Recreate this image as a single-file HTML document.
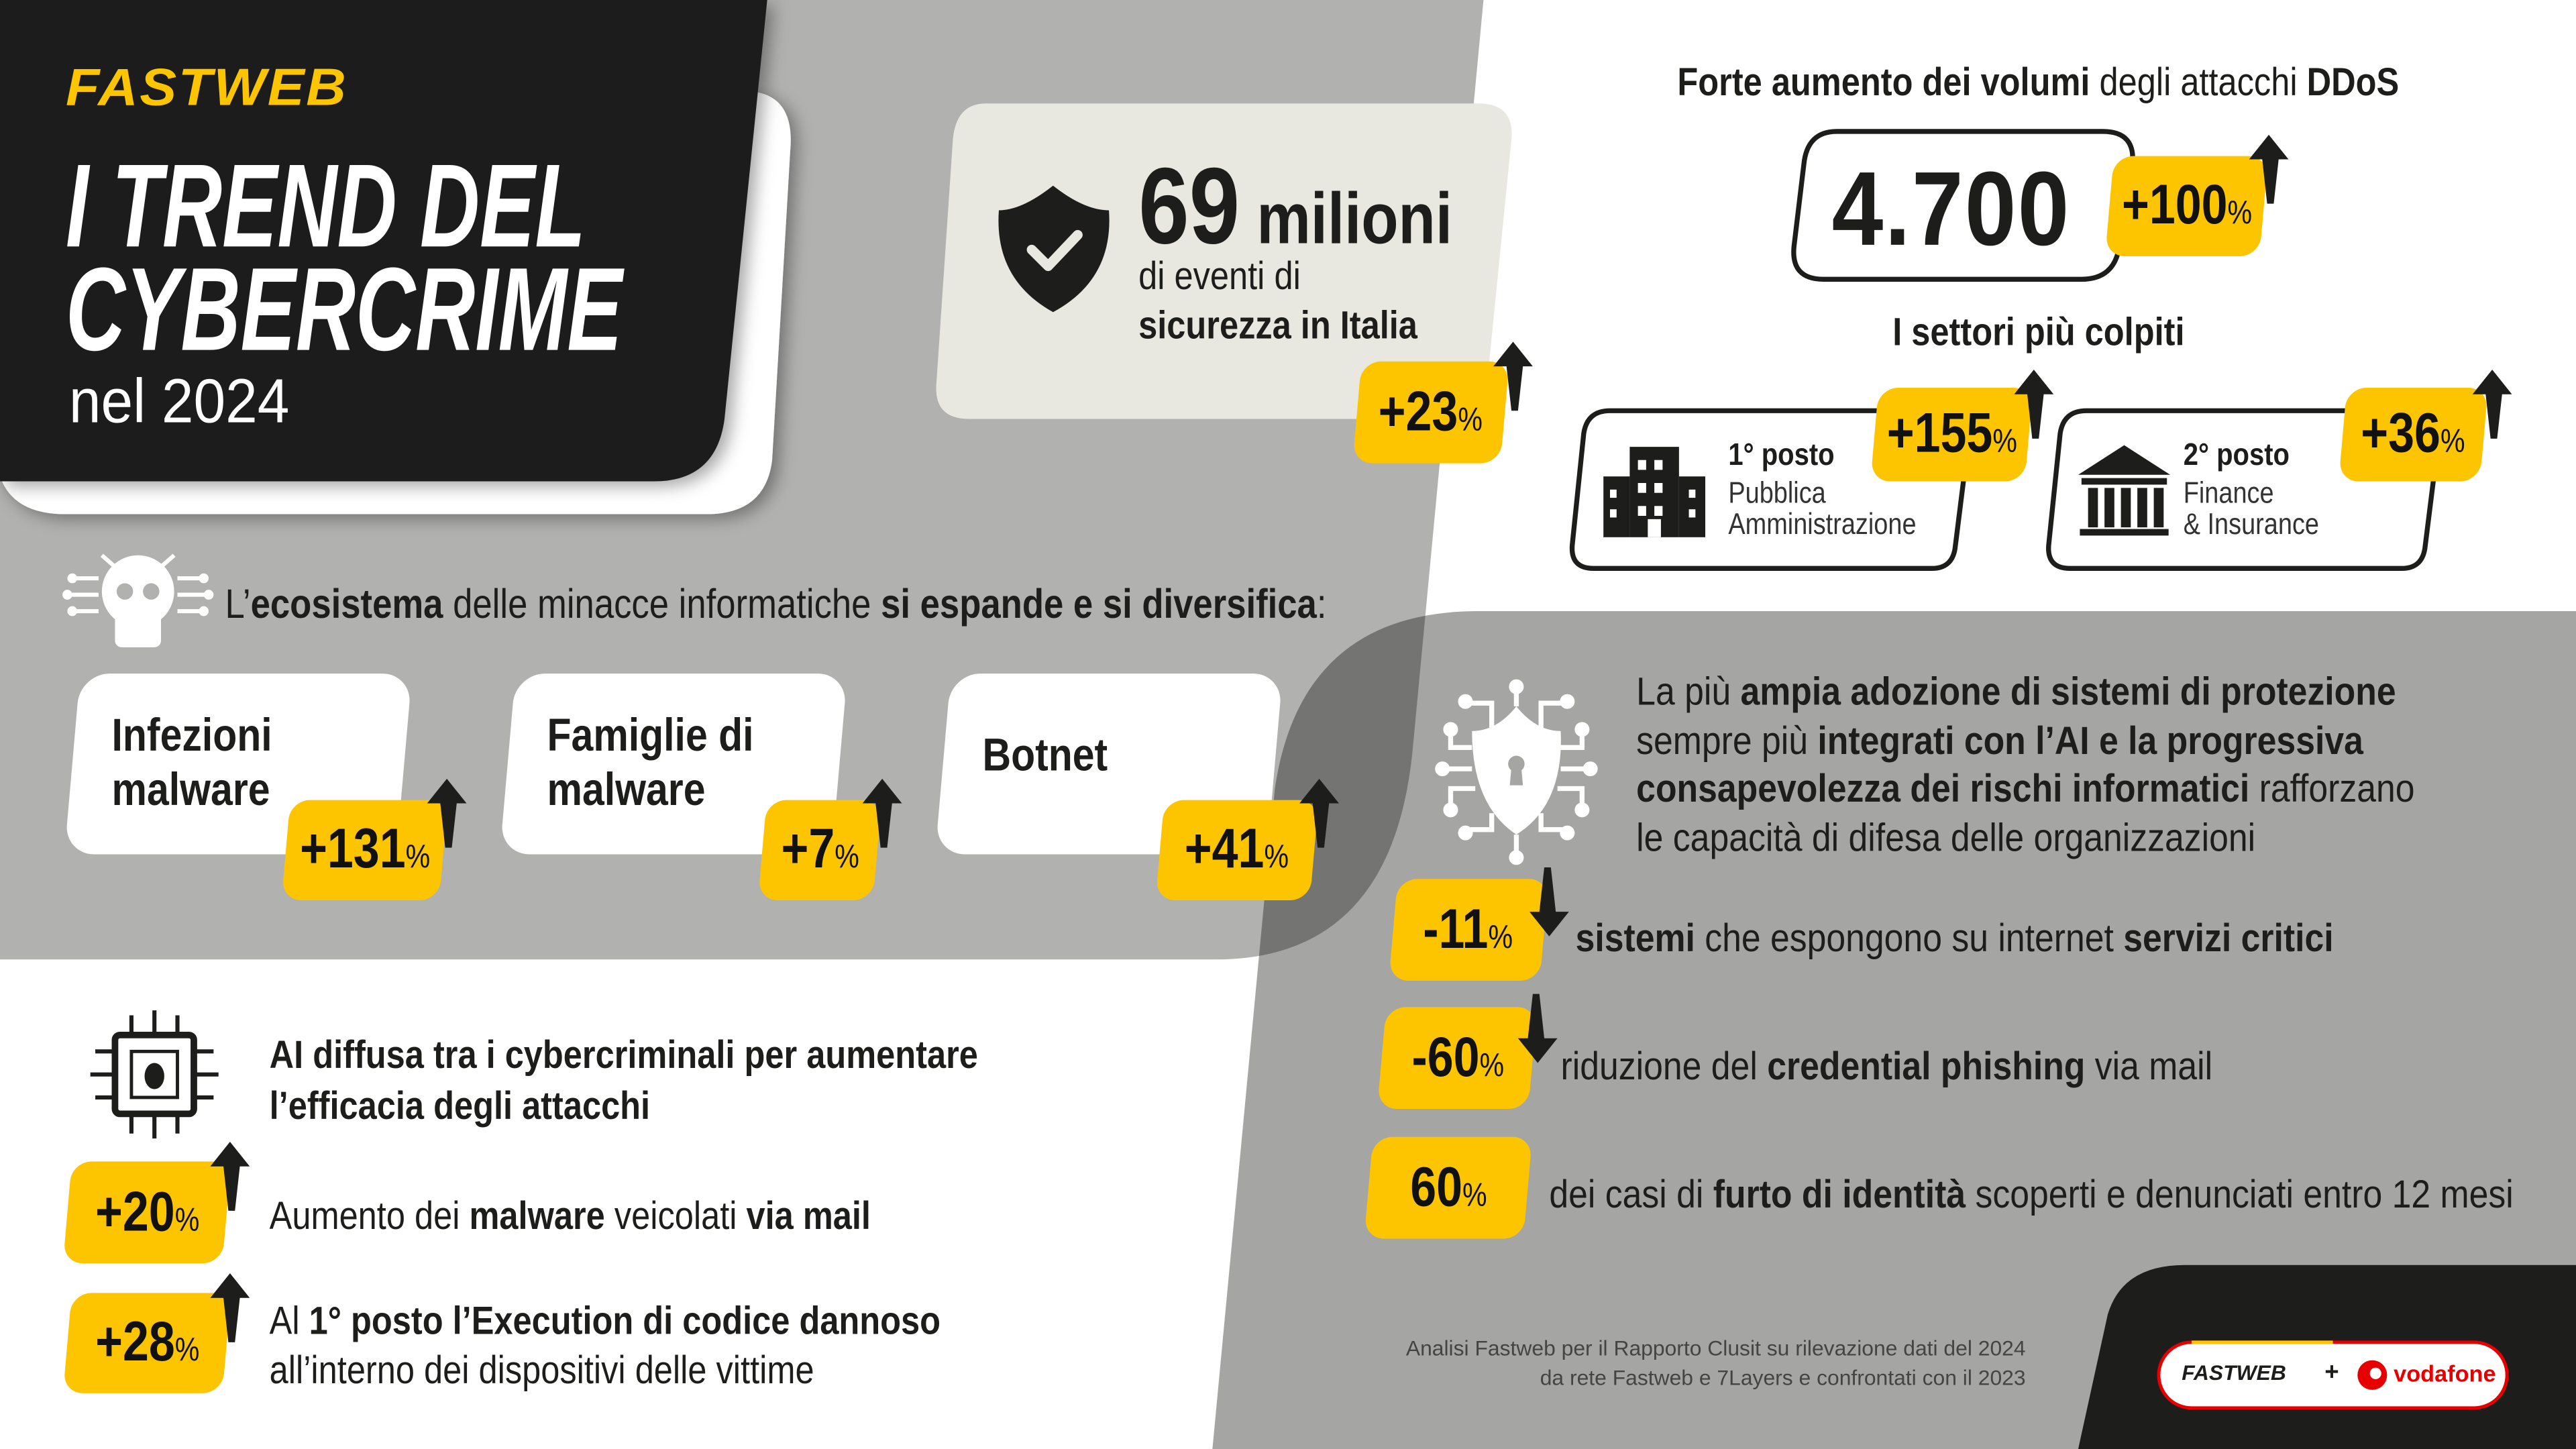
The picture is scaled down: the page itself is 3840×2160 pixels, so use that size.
<!DOCTYPE html>
<html><head><meta charset="utf-8">
<style>
html,body{margin:0;padding:0;background:#fff;}
body{width:3840px;height:2160px;overflow:hidden;position:relative;}
#s{position:absolute;left:0;top:0;width:1568px;height:882px;transform:scale(2.44898);transform-origin:0 0;font-family:"Liberation Sans Narrow","Liberation Sans",sans-serif;color:#1d1d1b;}
.t{position:absolute;white-space:nowrap;line-height:1;transform:scaleX(0.86);transform-origin:0 0;}
b{font-weight:700;}
.bd{position:absolute;background:#fdc400;border-radius:12px;transform:skewX(-5deg);display:flex;align-items:center;justify-content:center;font-weight:700;font-size:34px;color:#111;}
.bd span{transform:skewX(5deg) scaleX(0.84);white-space:nowrap;}
.bd small{font-size:20px;font-weight:400;}
.card{position:absolute;background:#fff;border-radius:18px;transform:skewX(-5deg);}
</style></head><body><div id="s">
<svg width="1568" height="882" viewBox="0 0 1568 882" style="position:absolute;left:0;top:0">
<defs>
<clipPath id="lc"><path d="M0,0 H903 L860,455 Q848,584 740,584 H0 Z"/></clipPath>
<filter id="sh" x="-10%" y="-10%" width="130%" height="130%"><feDropShadow dx="4" dy="3" stdDeviation="5" flood-opacity="0.35"/></filter>
</defs>
<path d="M0,0 H903 L860,455 Q848,584 740,584 H0 Z" fill="#b1b1b0"/>
<path d="M1568,372 V882 H738 L776,480 Q792,372 900,372 Z" fill="#a5a5a4"/>
<path d="M1568,372 V882 H738 L776,480 Q792,372 900,372 Z" fill="#747473" clip-path="url(#lc)"/>
<path d="M460,56 Q484,60 481,92 L470,280 Q466,313 430,313 H40 Q8,313 0,290 Z" fill="#fff" filter="url(#sh)"/>
<path d="M0,0 H467 L441,255 Q436,293 398,293 H0 Z" fill="#1d1d1b" filter="url(#sh)"/>
<path d="M1265,882 L1283,800 Q1292,770 1330,770 H1568 V882 Z" fill="#1d1d1b"/>
<path d="M600,63 H900 Q922,63 920,85 L905,235 Q902,255 880,255 H590 Q568,255 570,233 L580,85 Q582,63 600,63 Z" fill="#e8e8e1"/>
<path d="M641,113 Q660,128 675,128 Q678,170 641,190 Q605,170 608,128 Q622,128 641,113 Z" fill="#1d1d1b"/>
<path d="M628,152 L638,162 L656,143" stroke="#e8e8e1" stroke-width="6" fill="none" stroke-linecap="round" stroke-linejoin="round"/>
<path d="M1118,80 H1280 Q1300,80 1298,100 L1290,150 Q1287,170 1267,170 H1110 Q1090,170 1092,150 L1098,100 Q1100,80 1118,80 Z" fill="#fff" stroke="#1d1d1b" stroke-width="3"/>
<path d="M980,250 H1190 Q1200,250 1199,262 L1190,334 Q1188,346 1176,346 H970 Q956,346 957,332 L964,264 Q966,250 980,250 Z" fill="#fff" stroke="#1d1d1b" stroke-width="3"/>
<path d="M1270,250 H1476 Q1486,250 1485,262 L1476,334 Q1474,346 1462,346 H1260 Q1246,346 1247,332 L1254,264 Q1256,250 1270,250 Z" fill="#fff" stroke="#1d1d1b" stroke-width="3"/>
<g fill="#1d1d1b"><rect x="992" y="272" width="30" height="55"/><rect x="976" y="290" width="16" height="37"/><rect x="1022" y="290" width="16" height="37"/>
<g fill="#fff"><rect x="997" y="280" width="5" height="6"/><rect x="1007" y="280" width="5" height="6"/><rect x="997" y="294" width="5" height="6"/><rect x="1007" y="294" width="5" height="6"/><rect x="997" y="308" width="5" height="6"/><rect x="1007" y="308" width="5" height="6"/><rect x="980" y="298" width="4" height="5"/><rect x="980" y="310" width="4" height="5"/><rect x="1028" y="298" width="4" height="5"/><rect x="1028" y="310" width="4" height="5"/><rect x="1003" y="316" width="8" height="11"/></g></g>
<g fill="#1d1d1b"><path d="M1293,271 L1321,289 H1265 Z"/><rect x="1267" y="291" width="52" height="4"/><rect x="1271" y="297" width="6" height="24"/><rect x="1281" y="297" width="6" height="24"/><rect x="1291" y="297" width="6" height="24"/><rect x="1301" y="297" width="6" height="24"/><rect x="1311" y="297" width="6" height="24"/><rect x="1266" y="322" width="54" height="4"/></g>
<g fill="#fff" stroke="#fff"><circle cx="84" cy="360" r="22" stroke="none"/><rect x="70" y="372" width="28" height="22" rx="4" stroke="none"/>
<g stroke-width="2.5" fill="none"><path d="M60,352 H45 M60,362 H42 M60,372 H45 M108,352 H123 M108,362 H126 M108,372 H123 M70,345 L62,338 M98,345 L106,338"/></g>
<circle cx="44" cy="352" r="2.5"/><circle cx="41" cy="362" r="2.5"/><circle cx="44" cy="372" r="2.5"/><circle cx="124" cy="352" r="2.5"/><circle cx="127" cy="362" r="2.5"/><circle cx="124" cy="372" r="2.5"/></g>
<circle cx="76" cy="360" r="5" fill="#b1b1b0"/><circle cx="92" cy="360" r="5" fill="#b1b1b0"/>
<g fill="#1d1d1b" stroke="#1d1d1b"><rect x="70" y="630" width="48" height="48" rx="3" fill="none" stroke-width="4"/><rect x="80" y="640" width="28" height="28" fill="none" stroke-width="2"/>
<g stroke-width="2.5"><path d="M80,630 V618 M94,630 V615 M108,630 V618 M80,678 V690 M94,678 V693 M108,678 V690 M70,640 H58 M70,654 H55 M70,668 H58 M118,640 H130 M118,654 H133 M118,668 H130"/></g>
<ellipse cx="94" cy="655" rx="6" ry="8" stroke="none"/></g>
<g fill="#fff" stroke="#fff"><path d="M923,430 Q935,445 950,445 Q952,490 923,508 Q896,490 896,445 Q911,445 923,430 Z" stroke="none"/>
<g stroke-width="3" fill="none"><path d="M923,430 V420 M908,443 V428 H895 M938,443 V428 H951 M896,455 H883 V445 M950,455 H963 V445 M896,468 H880 M950,468 H967 M898,480 H883 V492 M948,480 H963 V492 M908,495 V505 H895 M938,495 V505 H951 M923,508 V520"/></g>
<circle cx="923" cy="418" r="4"/><circle cx="892" cy="427" r="4"/><circle cx="954" cy="427" r="4"/><circle cx="883" cy="444" r="4"/><circle cx="963" cy="444" r="4"/><circle cx="878" cy="468" r="4"/><circle cx="968" cy="468" r="4"/><circle cx="883" cy="493" r="4"/><circle cx="963" cy="493" r="4"/><circle cx="892" cy="507" r="4"/><circle cx="954" cy="507" r="4"/><circle cx="923" cy="522" r="4"/></g>
<circle cx="923" cy="465" r="5" fill="#a5a5a4"/><path d="M920,467 H926 L927,478 H919 Z" fill="#a5a5a4"/>
<rect x="1314" y="817" width="212" height="40" rx="20" fill="#fff" stroke="#e60000" stroke-width="2"/>
<path d="M1334,817 H1420" stroke="#fdc400" stroke-width="2"/>
<circle cx="1444" cy="837" r="9" fill="#e60000"/><circle cx="1446" cy="836" r="3.5" fill="#fff"/>
</svg>

<div class="card" style="left:44px;top:410px;width:202px;height:110px"></div>
<div class="card" style="left:309px;top:410px;width:202px;height:110px"></div>
<div class="card" style="left:574px;top:410px;width:202px;height:110px"></div>

<div class="t" style="left:40px;top:37px;font-size:32px;font-weight:700;font-style:italic;color:#fdc400;letter-spacing:1px;transform:scaleX(1.05)">FASTWEB</div>
<div class="t" style="left:40px;top:90px;font-size:72px;font-weight:700;font-style:italic;color:#fff;transform:scaleX(0.70)">I TREND DEL</div>
<div class="t" style="left:40px;top:153px;font-size:72px;font-weight:700;font-style:italic;color:#fff;transform:scaleX(0.70)">CYBERCRIME</div>
<div class="t" style="left:42px;top:226px;font-size:38px;color:#fff;transform:scaleX(0.92)">nel 2024</div>

<div class="t" style="left:693px;top:92px;font-size:66px;font-weight:700;transform:scaleX(0.84)">69<span style="font-size:44px"> milioni</span></div>
<div class="t" style="left:693px;top:157px;font-size:24px">di eventi di</div>
<div class="t" style="left:693px;top:187px;font-size:24px;font-weight:700">sicurezza in Italia</div>

<div class="t" style="left:1021px;top:39px;font-size:24px"><b>Forte aumento dei volumi</b> degli attacchi <b>DDoS</b></div>
<div class="t" style="left:1115px;top:95px;font-size:64px;font-weight:700;letter-spacing:1px;transform:scaleX(0.88)">4.700</div>
<div class="t" style="left:1152px;top:191px;font-size:24px;font-weight:700">I settori più colpiti</div>
<div class="t" style="left:1052px;top:268px;font-size:19px;font-weight:700">1° posto</div>
<div class="t" style="left:1052px;top:291px;font-size:18px;color:#333">Pubblica</div>
<div class="t" style="left:1052px;top:310px;font-size:18px;color:#333">Amministrazione</div>
<div class="t" style="left:1329px;top:268px;font-size:19px;font-weight:700">2° posto</div>
<div class="t" style="left:1329px;top:291px;font-size:18px;color:#333">Finance</div>
<div class="t" style="left:1329px;top:310px;font-size:18px;color:#333">&amp; Insurance</div>

<div class="t" style="left:137px;top:356px;font-size:25px">L’<b>ecosistema</b> delle minacce informatiche <b>si espande e si diversifica</b>:</div>
<div class="t" style="left:68px;top:431px;font-size:28px;font-weight:700;line-height:33px">Infezioni<br>malware</div>
<div class="t" style="left:333px;top:431px;font-size:28px;font-weight:700;line-height:33px">Famiglie di<br>malware</div>
<div class="t" style="left:598px;top:446px;font-size:28px;font-weight:700">Botnet</div>

<div class="t" style="left:164px;top:627px;font-size:24px;font-weight:700;line-height:31px">AI diffusa tra i cybercriminali per aumentare<br>l’efficacia degli attacchi</div>
<div class="t" style="left:164px;top:729px;font-size:24px">Aumento dei <b>malware</b> veicolati <b>via mail</b></div>
<div class="t" style="left:164px;top:790px;font-size:24px;line-height:30px">Al <b>1° posto l’Execution di codice dannoso</b><br>all’interno dei dispositivi delle vittime</div>

<div class="t" style="left:996px;top:407px;font-size:24px;line-height:29.5px;transform:scaleX(0.88)">La più <b>ampia adozione di sistemi di protezione</b><br>sempre più <b>integrati con l’AI e la progressiva</b><br><b>consapevolezza dei rischi informatici</b> rafforzano<br>le capacità di difesa delle organizzazioni</div>
<div class="t" style="left:959px;top:560px;font-size:24px;transform:scaleX(0.88)"><b>sistemi</b> che espongono su internet <b>servizi critici</b></div>
<div class="t" style="left:950px;top:638px;font-size:24px;transform:scaleX(0.88)">riduzione del <b>credential phishing</b> via mail</div>
<div class="t" style="left:943px;top:716px;font-size:24px;transform:scaleX(0.88)">dei casi di <b>furto di identità</b> scoperti e denunciati entro 12 mesi</div>

<div class="t" style="left:800px;top:812px;width:433px;text-align:right;font-size:13px;line-height:18px;color:#444;transform:none">Analisi Fastweb per il Rapporto Clusit su rilevazione dati del 2024<br>da rete Fastweb e 7Layers e confrontati con il 2023</div>
<div class="t" style="left:1328px;top:829px;font-size:13px;font-weight:700;font-style:italic;transform:none">FASTWEB</div>
<div class="t" style="left:1415px;top:828px;font-size:15px;font-weight:700;transform:none">+</div>
<div class="t" style="left:1457px;top:829px;font-size:14px;font-weight:700;color:#e60000;transform:none">vodafone</div>

<div class="bd" style="left:826px;top:220px;width:90px;height:62px"><span>+23<small>%</small></span></div>
<div class="bd" style="left:1284px;top:95px;width:94px;height:61px"><span>+100<small>%</small></span></div>
<div class="bd" style="left:1141px;top:236px;width:94px;height:57px"><span>+155<small>%</small></span></div>
<div class="bd" style="left:1426px;top:236px;width:86px;height:57px"><span>+36<small>%</small></span></div>
<div class="bd" style="left:174px;top:487px;width:96px;height:61px"><span>+131<small>%</small></span></div>
<div class="bd" style="left:464px;top:487px;width:70px;height:61px"><span>+7<small>%</small></span></div>
<div class="bd" style="left:706px;top:487px;width:94px;height:61px"><span>+41<small>%</small></span></div>
<div class="bd" style="left:41px;top:707px;width:97px;height:62px"><span>+20<small>%</small></span></div>
<div class="bd" style="left:41px;top:787px;width:97px;height:61px"><span>+28<small>%</small></span></div>
<div class="bd" style="left:848px;top:535px;width:92px;height:62px"><span>-11<small>%</small></span></div>
<div class="bd" style="left:841px;top:613px;width:92px;height:62px"><span>-60<small>%</small></span></div>
<div class="bd" style="left:833px;top:692px;width:97px;height:62px"><span>60<small>%</small></span></div>

<svg width="1568" height="882" viewBox="0 0 1568 882" style="position:absolute;left:0;top:0">
<defs><path id="ar" d="M0,0 L12,15 L6,15 L3,42 L-1,42 L-4,15 L-12,15 Z" fill="#1d1d1b"/></defs>
<use href="#ar" x="921" y="208"/>
<use href="#ar" x="1381" y="82"/>
<use href="#ar" x="1238" y="225"/>
<use href="#ar" x="1517" y="225"/>
<use href="#ar" x="272" y="474"/>
<use href="#ar" x="537" y="474"/>
<use href="#ar" x="803" y="474"/>
<use href="#ar" x="140" y="695"/>
<use href="#ar" x="140" y="775"/>
<use href="#ar" transform="translate(943,570) rotate(180)"/>
<use href="#ar" transform="translate(936,647) rotate(180)"/>
</svg>
</div></body></html>
